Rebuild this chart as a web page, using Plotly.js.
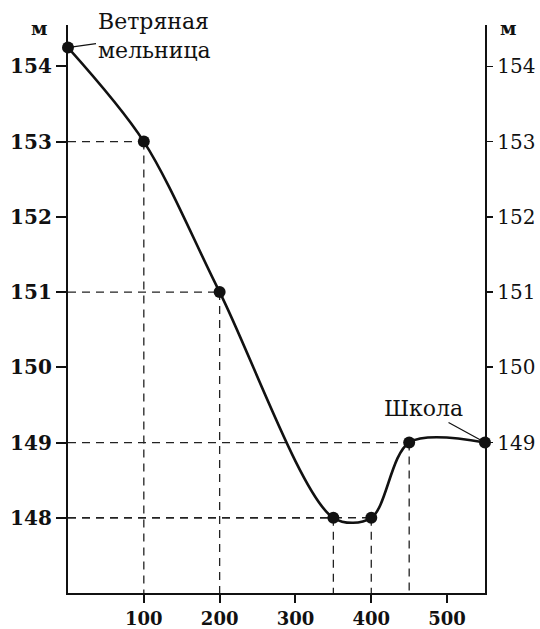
<!DOCTYPE html>
<html>
<head>
<meta charset="utf-8">
<script src="https://cdn.plot.ly/plotly-3.0.1.min.js"></script>
<style>
html,body{margin:0;padding:0;background:#fff;}
#chart{width:540px;height:629px;}
</style>
</head>
<body>
<div id="chart"></div>
<script>
// Profile data: distance (m) and height (m)
const distances = [0, 100, 200, 350, 400, 450, 550];
const heights = [154.25, 153, 151, 148, 148, 149, 149];
const guidePoints = [1, 2, 3, 4, 5];  // indices of points with dashed guides
const yTicks = [148, 149, 150, 151, 152, 153, 154];
const xTicks = [100, 200, 300, 400, 500];
const labelStart = "Ветряная<br>мельница";
const labelEnd = "Школа";
const unitLabel = "м";

const yMin = 147, yMax = 154.55, xMax = 550;

// dashed guide lines built from the data
const gx = [], gy = [];
guidePoints.forEach(i => {
  gx.push(0, distances[i], null, distances[i], distances[i], null);
  gy.push(heights[i], heights[i], null, heights[i], yMin, null);
});

const serif = "DejaVu Serif, Liberation Serif, serif";

const traces = [
  {
    x: gx, y: gy, mode: 'lines', type: 'scatter',
    line: {color: '#222', width: 1.3, dash: '8px,6px'},
    hoverinfo: 'skip', showlegend: false, connectgaps: false
  },
  {
    x: distances, y: heights, mode: 'lines+markers', type: 'scatter',
    line: {color: '#111', width: 2.6, shape: 'spline', smoothing: 0.9},
    marker: {color: '#111', size: 12},
    showlegend: false, cliponaxis: false
  },
  {
    x: [distances[0]], y: [heights[0]], yaxis: 'y2', mode: 'markers',
    marker: {opacity: 0}, showlegend: false, hoverinfo: 'skip'
  }
];

const layout = {
  width: 540, height: 629,
  margin: {l: 68, r: 55, t: 25, b: 36},
  paper_bgcolor: '#fff', plot_bgcolor: '#fff',
  showlegend: false,
  font: {family: serif, color: '#111'},
  xaxis: {
    range: [0, xMax], tickvals: xTicks, ticktext: xTicks.map(String),
    ticks: 'outside', ticklen: 8, tickwidth: 2, tickcolor: '#111',
    showline: true, linecolor: '#111', linewidth: 2.2,
    showgrid: false, zeroline: false, fixedrange: true,
    tickfont: {family: serif, size: 18, color: '#111', weight: 'bold'}
  },
  yaxis: {
    range: [yMin, yMax], tickvals: yTicks, ticktext: yTicks.map(String),
    ticks: 'outside', ticklen: 10, tickwidth: 2, tickcolor: '#111',
    showline: true, linecolor: '#111', linewidth: 2.2,
    showgrid: false, zeroline: false, fixedrange: true,
    tickfont: {family: serif, size: 20, color: '#111', weight: 'bold'}
  },
  yaxis2: {
    range: [yMin, yMax], overlaying: 'y', side: 'right', anchor: 'x',
    tickvals: yTicks.slice(1), ticktext: yTicks.slice(1).map(String),
    ticks: 'outside', ticklen: 6, tickwidth: 1.6, tickcolor: '#111',
    showline: true, linecolor: '#111', linewidth: 2.2,
    showgrid: false, zeroline: false, fixedrange: true,
    tickfont: {family: serif, size: 20, color: '#111'}
  },
  annotations: [
    {
      x: distances[0], y: heights[0], xref: 'x', yref: 'y',
      text: labelStart, align: 'left', showarrow: true,
      arrowhead: 0, arrowwidth: 1.2, arrowcolor: '#111',
      ax: 86, ay: -12, standoff: 3,
      font: {family: serif, size: 22, color: '#111'}
    },
    {
      x: distances[6], y: heights[6], xref: 'x', yref: 'y',
      text: labelEnd, align: 'center', showarrow: true,
      arrowhead: 0, arrowwidth: 1.2, arrowcolor: '#111',
      ax: -62, ay: -34, standoff: 3,
      font: {family: serif, size: 22, color: '#111'}
    },
    {
      xref: 'paper', yref: 'paper', x: 0, y: 1, xanchor: 'right', yanchor: 'bottom',
      xshift: -18, yshift: -16,
      text: unitLabel, showarrow: false,
      font: {family: serif, size: 19, color: '#111', weight: 'bold'}
    },
    {
      xref: 'paper', yref: 'paper', x: 1, y: 1, xanchor: 'left', yanchor: 'bottom',
      xshift: 13, yshift: -16,
      text: unitLabel, showarrow: false,
      font: {family: serif, size: 19, color: '#111', weight: 'bold'}
    }
  ]
};

Plotly.newPlot('chart', traces, layout, {displayModeBar: false, staticPlot: true});
</script>
</body>
</html>
